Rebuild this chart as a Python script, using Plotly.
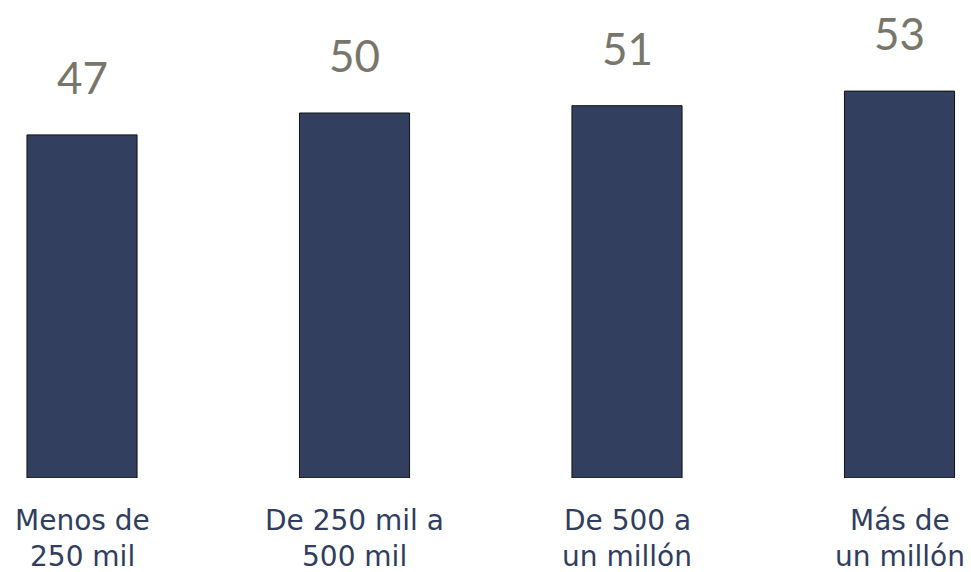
import plotly.graph_objects as go

categories = ["Menos de<br>250 mil", "De 250 mil a<br>500 mil", "De 500 a<br>un millón", "Más de<br>un millón"]
values = [47, 50, 51, 53]

BAR_COLOR = "#323f5f"
VALUE_COLOR = "#78766a"
CAT_COLOR = "#2f3d60"
VALUE_FONT = "Lato"
CAT_FONT = "DejaVu Sans"

x_pos = list(range(len(categories)))

fig = go.Figure(
    go.Bar(
        x=x_pos,
        y=values,
        width=0.404,
        marker=dict(color=BAR_COLOR, line=dict(color="#111111", width=1)),
        hoverinfo="skip",
    )
)

annotations = []
for xi, v in zip(x_pos, values):
    annotations.append(dict(
        x=xi, y=v, xref="x", yref="y", text=str(v), showarrow=False,
        yanchor="bottom", yshift=30,
        font=dict(family=VALUE_FONT, size=44, color=VALUE_COLOR),
    ))

for xi, cat in zip(x_pos, categories):
    for li, line in enumerate(cat.split("<br>")):
        annotations.append(dict(
            x=xi, y=0, xref="x", yref="y", text=line, showarrow=False,
            yanchor="middle", yshift=-42 - 36 * li,
            font=dict(family=CAT_FONT, size=28, color=CAT_COLOR),
        ))

fig.update_layout(
    width=971, height=572,
    margin=dict(l=0, r=0, t=0, b=94),
    plot_bgcolor="white", paper_bgcolor="white",
    showlegend=False,
    xaxis=dict(range=[-82 / 272.5, (971 - 82) / 272.5], visible=False),
    yaxis=dict(range=[0, 478 / 7.3], visible=False),
    annotations=annotations,
)

fig.write_html("out.html")
